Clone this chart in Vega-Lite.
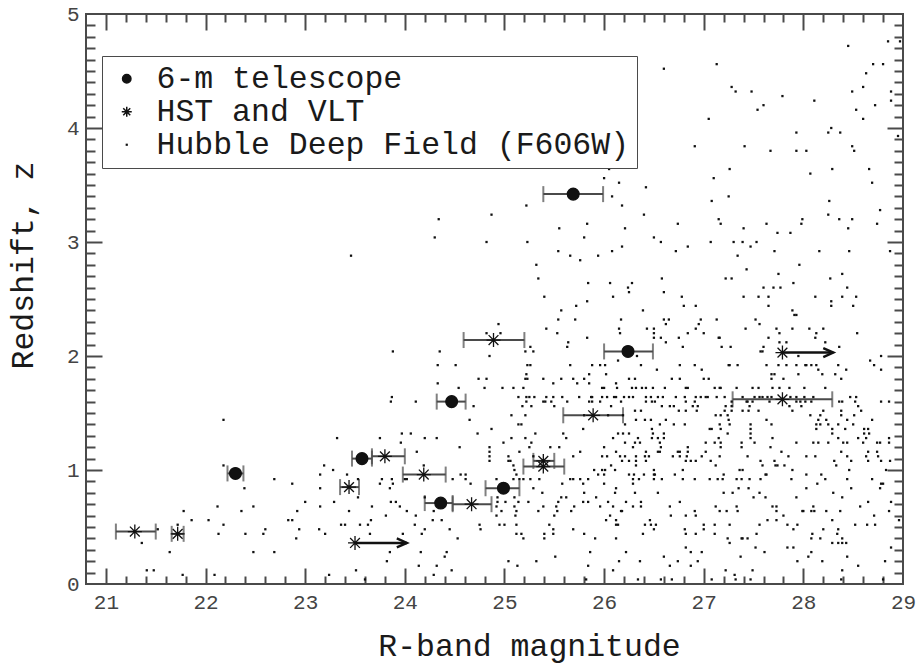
{
  "$schema": "https://vega.github.io/schema/vega-lite/v6.json",
  "width": 817,
  "height": 570,
  "autosize": {"type": "none"},
  "padding": {"left": 86, "top": 14, "right": 14, "bottom": 80},
  "background": "white",
  "config": {
    "view": {"stroke": "#4a4a4a", "strokeWidth": 2},
    "axis": {
      "grid": false,
      "domain": false,
      "labelFont": "Liberation Mono",
      "labelFontSize": 21,
      "labelColor": "#444444",
      "labelFlush": false,
      "labelOverlap": false,
      "titleFont": "Liberation Mono",
      "titleFontSize": 31.5,
      "titleFontWeight": "normal",
      "titleColor": "#1a1a1a",
      "tickColor": "#4a4a4a",
      "tickWidth": 2
    }
  },
  "data": {
    "values": [
      {"s":"c","R":28.85,"z":4.76},{"s":"c","R":28.97,"z":4.76},{"s":"c","R":28.45,"z":4.72},
      {"s":"c","R":27.13,"z":4.56},{"s":"c","R":28.70,"z":4.56},{"s":"c","R":28.80,"z":4.56},
      {"s":"c","R":26.60,"z":4.52},{"s":"c","R":28.63,"z":4.48},
      {"s":"c","R":27.28,"z":4.36},{"s":"c","R":28.60,"z":4.36},
      {"s":"c","R":26.08,"z":4.32},{"s":"c","R":27.32,"z":4.32},{"s":"c","R":27.48,"z":4.32},{"s":"c","R":28.49,"z":4.32},{"s":"c","R":28.88,"z":4.32},
      {"s":"c","R":27.79,"z":4.28},{"s":"c","R":28.11,"z":4.24},{"s":"c","R":28.88,"z":4.24},
      {"s":"c","R":27.60,"z":4.20},{"s":"c","R":28.72,"z":4.20},
      {"s":"c","R":26.22,"z":4.16},{"s":"c","R":27.54,"z":4.16},{"s":"c","R":28.53,"z":4.16},
      {"s":"c","R":27.05,"z":4.08},{"s":"c","R":28.60,"z":4.08},{"s":"c","R":28.28,"z":4.00},
      {"s":"c","R":27.93,"z":3.96},{"s":"c","R":28.25,"z":3.96},{"s":"c","R":28.37,"z":3.96},{"s":"c","R":28.95,"z":3.93},
      {"s":"c","R":26.91,"z":3.84},{"s":"c","R":27.41,"z":3.84},{"s":"c","R":28.49,"z":3.84},
      {"s":"c","R":27.67,"z":3.80},{"s":"c","R":27.93,"z":3.80},{"s":"c","R":28.03,"z":3.80},{"s":"c","R":28.51,"z":3.80},
      {"s":"c","R":26.05,"z":3.64},{"s":"c","R":27.26,"z":3.64},{"s":"c","R":28.29,"z":3.64},{"s":"c","R":28.66,"z":3.64},
      {"s":"c","R":28.07,"z":3.60},{"s":"c","R":26.00,"z":3.56},{"s":"c","R":27.10,"z":3.56},
      {"s":"c","R":26.15,"z":3.52},{"s":"c","R":28.69,"z":3.52},{"s":"c","R":26.42,"z":3.48},
      {"s":"c","R":26.08,"z":3.40},{"s":"c","R":27.25,"z":3.40},{"s":"c","R":27.08,"z":3.36},{"s":"c","R":28.26,"z":3.36},
      {"s":"c","R":25.22,"z":3.32},{"s":"c","R":26.18,"z":3.32},{"s":"c","R":28.77,"z":3.28},
      {"s":"c","R":24.87,"z":3.24},{"s":"c","R":26.40,"z":3.24},{"s":"c","R":28.25,"z":3.24},
      {"s":"c","R":24.34,"z":3.20},{"s":"c","R":27.15,"z":3.20},{"s":"c","R":27.99,"z":3.20},{"s":"c","R":28.36,"z":3.20},{"s":"c","R":28.49,"z":3.20},
      {"s":"c","R":25.83,"z":3.16},{"s":"c","R":26.74,"z":3.16},{"s":"c","R":27.17,"z":3.16},{"s":"c","R":27.63,"z":3.16},{"s":"c","R":27.98,"z":3.16},{"s":"c","R":28.74,"z":3.16},
      {"s":"c","R":25.55,"z":3.12},{"s":"c","R":26.21,"z":3.12},{"s":"c","R":27.40,"z":3.12},{"s":"c","R":28.45,"z":3.12},
      {"s":"c","R":27.74,"z":3.08},{"s":"c","R":27.87,"z":3.08},
      {"s":"c","R":24.30,"z":3.04},{"s":"c","R":25.80,"z":3.04},{"s":"c","R":26.50,"z":3.04},
      {"s":"c","R":24.82,"z":3.00},{"s":"c","R":25.23,"z":3.00},{"s":"c","R":26.57,"z":3.00},{"s":"c","R":27.07,"z":3.00},{"s":"c","R":27.30,"z":3.00},{"s":"c","R":27.39,"z":3.00},{"s":"c","R":27.53,"z":3.00},
      {"s":"c","R":26.18,"z":2.96},{"s":"c","R":26.84,"z":2.96},{"s":"c","R":27.47,"z":2.96},
      {"s":"c","R":25.54,"z":2.92},{"s":"c","R":26.08,"z":2.92},{"s":"c","R":26.72,"z":2.92},{"s":"c","R":27.71,"z":2.92},{"s":"c","R":28.16,"z":2.92},{"s":"c","R":28.46,"z":2.92},{"s":"c","R":28.87,"z":2.92},
      {"s":"c","R":23.46,"z":2.88},{"s":"c","R":25.66,"z":2.88},{"s":"c","R":25.94,"z":2.88},{"s":"c","R":27.34,"z":2.88},
      {"s":"c","R":25.76,"z":2.84},{"s":"c","R":25.32,"z":2.80},{"s":"c","R":27.96,"z":2.80},{"s":"c","R":27.43,"z":2.76},
      {"s":"c","R":27.75,"z":2.72},{"s":"c","R":28.39,"z":2.72},
      {"s":"c","R":25.34,"z":2.68},{"s":"c","R":26.58,"z":2.68},{"s":"c","R":27.22,"z":2.68},{"s":"c","R":27.28,"z":2.68},{"s":"c","R":28.27,"z":2.68},
      {"s":"c","R":25.84,"z":2.64},{"s":"c","R":26.06,"z":2.64},{"s":"c","R":26.28,"z":2.64},{"s":"c","R":27.90,"z":2.64},
      {"s":"c","R":26.24,"z":2.60},{"s":"c","R":27.60,"z":2.60},{"s":"c","R":27.70,"z":2.60},{"s":"c","R":27.77,"z":2.60},{"s":"c","R":28.44,"z":2.60},
      {"s":"c","R":26.25,"z":2.56},{"s":"c","R":26.60,"z":2.56},
      {"s":"c","R":25.40,"z":2.52},{"s":"c","R":26.09,"z":2.52},{"s":"c","R":26.78,"z":2.52},{"s":"c","R":27.40,"z":2.52},{"s":"c","R":27.55,"z":2.52},{"s":"c","R":27.65,"z":2.52},{"s":"c","R":28.12,"z":2.52},{"s":"c","R":28.39,"z":2.52},{"s":"c","R":28.53,"z":2.52},
      {"s":"c","R":25.83,"z":2.48},{"s":"c","R":28.28,"z":2.48},
      {"s":"c","R":25.72,"z":2.44},{"s":"c","R":26.80,"z":2.44},{"s":"c","R":26.92,"z":2.44},{"s":"c","R":27.65,"z":2.44},{"s":"c","R":28.28,"z":2.44},{"s":"c","R":28.50,"z":2.44},
      {"s":"c","R":25.57,"z":2.40},{"s":"c","R":26.39,"z":2.40},{"s":"c","R":27.89,"z":2.40},
      {"s":"c","R":27.91,"z":2.36},{"s":"c","R":27.93,"z":2.36},
      {"s":"c","R":25.54,"z":2.32},{"s":"c","R":25.71,"z":2.32},{"s":"c","R":26.17,"z":2.32},{"s":"c","R":26.60,"z":2.32},{"s":"c","R":26.65,"z":2.32},{"s":"c","R":26.97,"z":2.32},{"s":"c","R":27.13,"z":2.32},{"s":"c","R":27.52,"z":2.32},
      {"s":"c","R":24.94,"z":2.28},{"s":"c","R":26.62,"z":2.28},{"s":"c","R":26.95,"z":2.28},{"s":"c","R":27.56,"z":2.28},
      {"s":"c","R":25.42,"z":2.24},{"s":"c","R":26.15,"z":2.24},{"s":"c","R":26.43,"z":2.24},{"s":"c","R":26.50,"z":2.24},{"s":"c","R":26.92,"z":2.24},{"s":"c","R":27.42,"z":2.24},{"s":"c","R":27.73,"z":2.24},{"s":"c","R":27.89,"z":2.24},{"s":"c","R":28.06,"z":2.24},{"s":"c","R":28.20,"z":2.24},
      {"s":"c","R":24.82,"z":2.20},{"s":"c","R":24.96,"z":2.20},{"s":"c","R":25.53,"z":2.20},{"s":"c","R":26.16,"z":2.20},{"s":"c","R":26.50,"z":2.20},{"s":"c","R":26.84,"z":2.20},{"s":"c","R":27.00,"z":2.20},{"s":"c","R":27.76,"z":2.20},{"s":"c","R":28.13,"z":2.20},{"s":"c","R":28.54,"z":2.20},
      {"s":"c","R":25.83,"z":2.16},{"s":"c","R":26.50,"z":2.16},{"s":"c","R":26.57,"z":2.16},{"s":"c","R":26.75,"z":2.16},{"s":"c","R":27.15,"z":2.16},{"s":"c","R":27.16,"z":2.16},{"s":"c","R":27.65,"z":2.16},{"s":"c","R":28.12,"z":2.16},
      {"s":"c","R":25.64,"z":2.12},{"s":"c","R":26.62,"z":2.12},{"s":"c","R":27.76,"z":2.12},{"s":"c","R":27.83,"z":2.12},{"s":"c","R":28.22,"z":2.12},
      {"s":"c","R":25.26,"z":2.08},{"s":"c","R":25.63,"z":2.08},{"s":"c","R":26.79,"z":2.08},{"s":"c","R":27.18,"z":2.08},{"s":"c","R":27.27,"z":2.08},{"s":"c","R":27.60,"z":2.08},{"s":"c","R":28.36,"z":2.08},
      {"s":"c","R":23.88,"z":2.04},{"s":"c","R":24.35,"z":2.04},{"s":"c","R":25.21,"z":2.04},{"s":"c","R":25.29,"z":2.04},{"s":"c","R":27.57,"z":2.04},{"s":"c","R":27.59,"z":2.04},
      {"s":"c","R":24.85,"z":2.00},{"s":"c","R":26.33,"z":2.00},{"s":"c","R":27.95,"z":2.00},{"s":"c","R":28.78,"z":2.00},
      {"s":"c","R":26.14,"z":1.96},{"s":"c","R":28.67,"z":1.96},
      {"s":"c","R":24.33,"z":1.92},{"s":"c","R":24.51,"z":1.92},{"s":"c","R":25.23,"z":1.92},{"s":"c","R":25.26,"z":1.92},{"s":"c","R":25.66,"z":1.92},{"s":"c","R":25.88,"z":1.92},{"s":"c","R":25.96,"z":1.92},{"s":"c","R":26.01,"z":1.92},{"s":"c","R":26.37,"z":1.92},{"s":"c","R":26.76,"z":1.92},{"s":"c","R":26.91,"z":1.92},{"s":"c","R":27.25,"z":1.92},{"s":"c","R":27.26,"z":1.92},{"s":"c","R":27.34,"z":1.92},{"s":"c","R":27.63,"z":1.92},{"s":"c","R":27.75,"z":1.92},{"s":"c","R":27.83,"z":1.92},{"s":"c","R":27.93,"z":1.92},{"s":"c","R":28.02,"z":1.92},{"s":"c","R":28.03,"z":1.92},{"s":"c","R":28.08,"z":1.92},{"s":"c","R":28.13,"z":1.92},{"s":"c","R":28.35,"z":1.92},{"s":"c","R":28.71,"z":1.92},
      {"s":"c","R":26.53,"z":1.88},{"s":"c","R":26.98,"z":1.88},{"s":"c","R":28.15,"z":1.88},{"s":"c","R":28.43,"z":1.88},{"s":"c","R":28.78,"z":1.88},
      {"s":"c","R":25.22,"z":1.84},{"s":"c","R":25.85,"z":1.84},{"s":"c","R":26.02,"z":1.84},{"s":"c","R":27.68,"z":1.84},{"s":"c","R":27.71,"z":1.84},{"s":"c","R":27.95,"z":1.84},{"s":"c","R":28.19,"z":1.84},{"s":"c","R":28.32,"z":1.84},
      {"s":"c","R":24.74,"z":1.80},{"s":"c","R":24.82,"z":1.80},{"s":"c","R":25.21,"z":1.80},{"s":"c","R":25.23,"z":1.80},{"s":"c","R":25.39,"z":1.80},{"s":"c","R":25.57,"z":1.80},{"s":"c","R":25.69,"z":1.80},{"s":"c","R":25.80,"z":1.80},{"s":"c","R":26.25,"z":1.80},{"s":"c","R":26.31,"z":1.80},{"s":"c","R":26.68,"z":1.80},{"s":"c","R":26.76,"z":1.80},{"s":"c","R":27.00,"z":1.80},{"s":"c","R":27.05,"z":1.80},{"s":"c","R":27.68,"z":1.80},{"s":"c","R":27.80,"z":1.80},{"s":"c","R":28.38,"z":1.80},
      {"s":"c","R":24.33,"z":1.76},{"s":"c","R":25.49,"z":1.76},{"s":"c","R":25.73,"z":1.76},{"s":"c","R":25.85,"z":1.76},{"s":"c","R":26.12,"z":1.76},
      {"s":"c","R":24.54,"z":1.72},{"s":"c","R":24.80,"z":1.72},{"s":"c","R":24.98,"z":1.72},{"s":"c","R":25.09,"z":1.72},{"s":"c","R":25.19,"z":1.72},{"s":"c","R":25.98,"z":1.72},{"s":"c","R":26.00,"z":1.72},{"s":"c","R":26.13,"z":1.72},{"s":"c","R":26.28,"z":1.72},{"s":"c","R":26.32,"z":1.72},{"s":"c","R":26.38,"z":1.72},{"s":"c","R":26.42,"z":1.72},{"s":"c","R":26.49,"z":1.72},{"s":"c","R":26.61,"z":1.72},{"s":"c","R":26.82,"z":1.72},{"s":"c","R":26.84,"z":1.72},{"s":"c","R":27.11,"z":1.72},{"s":"c","R":27.16,"z":1.72},{"s":"c","R":27.17,"z":1.72},{"s":"c","R":27.33,"z":1.72},{"s":"c","R":27.49,"z":1.72},{"s":"c","R":27.55,"z":1.72},{"s":"c","R":27.69,"z":1.72},{"s":"c","R":27.76,"z":1.72},{"s":"c","R":27.86,"z":1.72},{"s":"c","R":28.01,"z":1.72},{"s":"c","R":28.22,"z":1.72},
      {"s":"c","R":23.87,"z":1.64},{"s":"c","R":25.14,"z":1.64},{"s":"c","R":25.22,"z":1.64},{"s":"c","R":25.25,"z":1.64},{"s":"c","R":25.30,"z":1.64},{"s":"c","R":25.42,"z":1.64},{"s":"c","R":25.49,"z":1.64},{"s":"c","R":25.58,"z":1.64},{"s":"c","R":25.75,"z":1.64},{"s":"c","R":25.87,"z":1.64},{"s":"c","R":25.88,"z":1.64},{"s":"c","R":25.98,"z":1.64},{"s":"c","R":26.03,"z":1.64},{"s":"c","R":26.10,"z":1.64},{"s":"c","R":26.12,"z":1.64},{"s":"c","R":26.20,"z":1.64},{"s":"c","R":26.25,"z":1.64},{"s":"c","R":26.29,"z":1.64},{"s":"c","R":26.42,"z":1.64},{"s":"c","R":26.47,"z":1.64},{"s":"c","R":26.54,"z":1.64},{"s":"c","R":26.59,"z":1.64},{"s":"c","R":26.72,"z":1.64},{"s":"c","R":26.81,"z":1.64},{"s":"c","R":26.92,"z":1.64},{"s":"c","R":26.97,"z":1.64},{"s":"c","R":27.02,"z":1.64},{"s":"c","R":27.04,"z":1.64},{"s":"c","R":27.13,"z":1.64},{"s":"c","R":27.21,"z":1.64},{"s":"c","R":27.39,"z":1.64},{"s":"c","R":27.51,"z":1.64},{"s":"c","R":27.56,"z":1.64},{"s":"c","R":27.59,"z":1.64},{"s":"c","R":27.64,"z":1.64},{"s":"c","R":27.68,"z":1.64},{"s":"c","R":27.87,"z":1.64},{"s":"c","R":27.93,"z":1.64},{"s":"c","R":28.01,"z":1.64},{"s":"c","R":28.10,"z":1.64},{"s":"c","R":28.47,"z":1.64},{"s":"c","R":28.53,"z":1.64},
      {"s":"c","R":23.86,"z":1.60},{"s":"c","R":24.11,"z":1.60},{"s":"c","R":25.22,"z":1.60},{"s":"c","R":25.39,"z":1.60},{"s":"c","R":25.41,"z":1.60},{"s":"c","R":25.47,"z":1.60},{"s":"c","R":25.63,"z":1.60},{"s":"c","R":25.85,"z":1.60},{"s":"c","R":25.88,"z":1.60},{"s":"c","R":25.96,"z":1.60},{"s":"c","R":26.17,"z":1.60},{"s":"c","R":26.42,"z":1.60},{"s":"c","R":26.48,"z":1.60},{"s":"c","R":26.51,"z":1.60},{"s":"c","R":26.82,"z":1.60},{"s":"c","R":26.91,"z":1.60},{"s":"c","R":27.28,"z":1.60},{"s":"c","R":27.43,"z":1.60},{"s":"c","R":27.44,"z":1.60},{"s":"c","R":27.49,"z":1.60},{"s":"c","R":27.66,"z":1.60},{"s":"c","R":27.93,"z":1.60},{"s":"c","R":27.97,"z":1.60},{"s":"c","R":28.02,"z":1.60},{"s":"c","R":28.08,"z":1.60},{"s":"c","R":28.36,"z":1.60},{"s":"c","R":28.39,"z":1.60},{"s":"c","R":28.52,"z":1.60},{"s":"c","R":28.78,"z":1.60},{"s":"c","R":28.86,"z":1.60},
      {"s":"c","R":24.69,"z":1.56},{"s":"c","R":25.18,"z":1.56},{"s":"c","R":25.27,"z":1.56},{"s":"c","R":25.50,"z":1.56},{"s":"c","R":26.07,"z":1.56},{"s":"c","R":26.58,"z":1.56},{"s":"c","R":26.66,"z":1.56},{"s":"c","R":26.70,"z":1.56},{"s":"c","R":26.89,"z":1.56},{"s":"c","R":26.94,"z":1.56},{"s":"c","R":27.22,"z":1.56},{"s":"c","R":27.28,"z":1.56},{"s":"c","R":27.46,"z":1.56},{"s":"c","R":27.86,"z":1.56},{"s":"c","R":27.98,"z":1.56},{"s":"c","R":28.55,"z":1.56},
      {"s":"c","R":26.31,"z":1.52},{"s":"c","R":26.37,"z":1.52},{"s":"c","R":26.75,"z":1.52},{"s":"c","R":26.82,"z":1.52},{"s":"c","R":26.93,"z":1.52},{"s":"c","R":27.21,"z":1.52},{"s":"c","R":27.28,"z":1.52},{"s":"c","R":27.39,"z":1.52},{"s":"c","R":27.45,"z":1.52},{"s":"c","R":27.55,"z":1.52},{"s":"c","R":27.89,"z":1.52},{"s":"c","R":28.20,"z":1.52},{"s":"c","R":28.38,"z":1.52},{"s":"c","R":28.58,"z":1.52},
      {"s":"c","R":25.07,"z":1.48},{"s":"c","R":25.21,"z":1.48},{"s":"c","R":25.80,"z":1.48},{"s":"c","R":26.04,"z":1.48},{"s":"c","R":26.19,"z":1.48},{"s":"c","R":27.12,"z":1.48},{"s":"c","R":27.17,"z":1.48},{"s":"c","R":27.24,"z":1.48},{"s":"c","R":28.07,"z":1.48},{"s":"c","R":28.17,"z":1.48},{"s":"c","R":28.38,"z":1.48},{"s":"c","R":28.51,"z":1.48},
      {"s":"c","R":22.18,"z":1.44},{"s":"c","R":24.65,"z":1.44},{"s":"c","R":26.32,"z":1.44},{"s":"c","R":26.41,"z":1.44},{"s":"c","R":26.47,"z":1.44},{"s":"c","R":26.62,"z":1.44},{"s":"c","R":27.25,"z":1.44},{"s":"c","R":27.63,"z":1.44},{"s":"c","R":28.15,"z":1.44},{"s":"c","R":28.23,"z":1.44},{"s":"c","R":28.44,"z":1.44},{"s":"c","R":28.69,"z":1.44},
      {"s":"c","R":25.14,"z":1.40},{"s":"c","R":25.17,"z":1.40},{"s":"c","R":26.21,"z":1.40},{"s":"c","R":26.56,"z":1.40},{"s":"c","R":26.70,"z":1.40},{"s":"c","R":26.81,"z":1.40},{"s":"c","R":27.16,"z":1.40},{"s":"c","R":27.26,"z":1.40},{"s":"c","R":27.47,"z":1.40},{"s":"c","R":27.68,"z":1.40},{"s":"c","R":28.13,"z":1.40},{"s":"c","R":28.17,"z":1.40},{"s":"c","R":28.25,"z":1.40},{"s":"c","R":28.35,"z":1.40},{"s":"c","R":28.50,"z":1.40},
      {"s":"c","R":24.87,"z":1.36},{"s":"c","R":25.79,"z":1.36},{"s":"c","R":26.48,"z":1.36},{"s":"c","R":27.06,"z":1.36},{"s":"c","R":27.08,"z":1.36},{"s":"c","R":27.17,"z":1.36},{"s":"c","R":27.47,"z":1.36},{"s":"c","R":28.13,"z":1.36},{"s":"c","R":28.29,"z":1.36},{"s":"c","R":28.42,"z":1.36},{"s":"c","R":28.61,"z":1.36},{"s":"c","R":28.65,"z":1.36},
      {"s":"c","R":23.97,"z":1.32},{"s":"c","R":24.06,"z":1.32},{"s":"c","R":24.73,"z":1.32},{"s":"c","R":25.31,"z":1.32},{"s":"c","R":25.59,"z":1.32},{"s":"c","R":26.14,"z":1.32},{"s":"c","R":26.19,"z":1.32},{"s":"c","R":26.25,"z":1.32},{"s":"c","R":26.49,"z":1.32},{"s":"c","R":26.60,"z":1.32},{"s":"c","R":27.24,"z":1.32},{"s":"c","R":27.47,"z":1.32},{"s":"c","R":28.29,"z":1.32},{"s":"c","R":28.61,"z":1.32},{"s":"c","R":28.66,"z":1.32},
      {"s":"c","R":23.32,"z":1.28},{"s":"c","R":23.75,"z":1.28},{"s":"c","R":24.20,"z":1.28},{"s":"c","R":24.32,"z":1.28},{"s":"c","R":25.07,"z":1.28},{"s":"c","R":25.21,"z":1.28},{"s":"c","R":25.62,"z":1.28},{"s":"c","R":26.09,"z":1.28},{"s":"c","R":26.34,"z":1.28},{"s":"c","R":26.48,"z":1.28},{"s":"c","R":26.54,"z":1.28},{"s":"c","R":26.60,"z":1.28},{"s":"c","R":27.15,"z":1.28},{"s":"c","R":27.47,"z":1.28},{"s":"c","R":27.69,"z":1.28},{"s":"c","R":28.35,"z":1.28},{"s":"c","R":28.55,"z":1.28},{"s":"c","R":28.63,"z":1.28},{"s":"c","R":28.86,"z":1.28},
      {"s":"c","R":23.96,"z":1.24},{"s":"c","R":24.99,"z":1.24},{"s":"c","R":25.27,"z":1.24},{"s":"c","R":26.21,"z":1.24},{"s":"c","R":26.31,"z":1.24},{"s":"c","R":26.36,"z":1.24},{"s":"c","R":26.56,"z":1.24},{"s":"c","R":27.02,"z":1.24},{"s":"c","R":27.11,"z":1.24},{"s":"c","R":27.17,"z":1.24},{"s":"c","R":27.38,"z":1.24},{"s":"c","R":27.51,"z":1.24},{"s":"c","R":27.93,"z":1.24},{"s":"c","R":28.10,"z":1.24},{"s":"c","R":28.15,"z":1.24},{"s":"c","R":28.25,"z":1.24},{"s":"c","R":28.40,"z":1.24},{"s":"c","R":28.44,"z":1.24},{"s":"c","R":28.60,"z":1.24},{"s":"c","R":28.74,"z":1.24},{"s":"c","R":28.77,"z":1.24},{"s":"c","R":28.86,"z":1.24},
      {"s":"c","R":24.55,"z":1.20},{"s":"c","R":24.85,"z":1.20},{"s":"c","R":25.25,"z":1.20},{"s":"c","R":25.46,"z":1.20},{"s":"c","R":25.55,"z":1.20},{"s":"c","R":26.00,"z":1.20},{"s":"c","R":26.29,"z":1.20},{"s":"c","R":26.57,"z":1.20},{"s":"c","R":26.84,"z":1.20},{"s":"c","R":27.17,"z":1.20},{"s":"c","R":27.38,"z":1.20},{"s":"c","R":27.67,"z":1.20},
      {"s":"c","R":24.12,"z":1.16},{"s":"c","R":24.85,"z":1.16},{"s":"c","R":25.15,"z":1.16},{"s":"c","R":25.76,"z":1.16},{"s":"c","R":26.12,"z":1.16},{"s":"c","R":26.42,"z":1.16},{"s":"c","R":26.54,"z":1.16},{"s":"c","R":26.56,"z":1.16},{"s":"c","R":26.74,"z":1.16},{"s":"c","R":26.76,"z":1.16},{"s":"c","R":26.84,"z":1.16},{"s":"c","R":27.02,"z":1.16},{"s":"c","R":27.78,"z":1.16},{"s":"c","R":28.38,"z":1.16},{"s":"c","R":28.65,"z":1.16},{"s":"c","R":28.74,"z":1.16},
      {"s":"c","R":24.85,"z":1.12},{"s":"c","R":25.04,"z":1.12},{"s":"c","R":25.29,"z":1.12},{"s":"c","R":25.69,"z":1.12},{"s":"c","R":25.98,"z":1.12},{"s":"c","R":26.03,"z":1.12},{"s":"c","R":26.16,"z":1.12},{"s":"c","R":26.21,"z":1.12},{"s":"c","R":26.32,"z":1.12},{"s":"c","R":26.41,"z":1.12},{"s":"c","R":26.45,"z":1.12},{"s":"c","R":26.69,"z":1.12},{"s":"c","R":26.76,"z":1.12},{"s":"c","R":26.83,"z":1.12},{"s":"c","R":26.98,"z":1.12},{"s":"c","R":27.16,"z":1.12},{"s":"c","R":27.44,"z":1.12},{"s":"c","R":27.85,"z":1.12},{"s":"c","R":28.03,"z":1.12},{"s":"c","R":28.12,"z":1.12},{"s":"c","R":28.44,"z":1.12},{"s":"c","R":28.63,"z":1.12},{"s":"c","R":28.75,"z":1.12},
      {"s":"c","R":24.85,"z":1.08},{"s":"c","R":25.04,"z":1.08},{"s":"c","R":25.06,"z":1.08},{"s":"c","R":26.18,"z":1.08},{"s":"c","R":26.25,"z":1.08},{"s":"c","R":26.32,"z":1.08},{"s":"c","R":26.42,"z":1.08},{"s":"c","R":26.82,"z":1.08},{"s":"c","R":26.87,"z":1.08},{"s":"c","R":26.92,"z":1.08},{"s":"c","R":27.07,"z":1.08},{"s":"c","R":27.57,"z":1.08},{"s":"c","R":27.71,"z":1.08},{"s":"c","R":28.31,"z":1.08},{"s":"c","R":28.48,"z":1.08},{"s":"c","R":28.65,"z":1.08},{"s":"c","R":28.78,"z":1.08},{"s":"c","R":28.87,"z":1.08},
      {"s":"c","R":22.18,"z":1.04},{"s":"c","R":23.19,"z":1.04},{"s":"c","R":24.19,"z":1.04},{"s":"c","R":25.09,"z":1.04},{"s":"c","R":26.07,"z":1.04},{"s":"c","R":26.32,"z":1.04},{"s":"c","R":27.12,"z":1.04},{"s":"c","R":27.59,"z":1.04},{"s":"c","R":27.72,"z":1.04},{"s":"c","R":27.74,"z":1.04},{"s":"c","R":27.81,"z":1.04},{"s":"c","R":28.33,"z":1.04},
      {"s":"c","R":23.28,"z":1.00},{"s":"c","R":25.10,"z":1.00},{"s":"c","R":25.90,"z":1.00},{"s":"c","R":25.98,"z":1.00},{"s":"c","R":26.01,"z":1.00},{"s":"c","R":26.11,"z":1.00},{"s":"c","R":26.50,"z":1.00},{"s":"c","R":26.79,"z":1.00},{"s":"c","R":27.36,"z":1.00},{"s":"c","R":27.39,"z":1.00},{"s":"c","R":27.89,"z":1.00},{"s":"c","R":28.46,"z":1.00},{"s":"c","R":28.83,"z":1.00},
      {"s":"c","R":23.15,"z":0.96},{"s":"c","R":23.42,"z":0.96},{"s":"c","R":24.56,"z":0.96},{"s":"c","R":24.61,"z":0.96},{"s":"c","R":25.12,"z":0.96},{"s":"c","R":25.94,"z":0.96},{"s":"c","R":26.00,"z":0.96},{"s":"c","R":26.25,"z":0.96},{"s":"c","R":26.30,"z":0.96},{"s":"c","R":26.40,"z":0.96},{"s":"c","R":26.50,"z":0.96},{"s":"c","R":26.51,"z":0.96},{"s":"c","R":26.71,"z":0.96},{"s":"c","R":27.20,"z":0.96},{"s":"c","R":27.62,"z":0.96},{"s":"c","R":27.63,"z":0.96},{"s":"c","R":28.03,"z":0.96},{"s":"c","R":28.18,"z":0.96},
      {"s":"c","R":22.69,"z":0.92},{"s":"c","R":23.53,"z":0.92},{"s":"c","R":23.77,"z":0.92},{"s":"c","R":23.87,"z":0.92},{"s":"c","R":24.00,"z":0.92},{"s":"c","R":24.02,"z":0.92},{"s":"c","R":24.48,"z":0.92},{"s":"c","R":24.61,"z":0.92},{"s":"c","R":24.92,"z":0.92},{"s":"c","R":25.09,"z":0.92},{"s":"c","R":25.15,"z":0.92},{"s":"c","R":25.19,"z":0.92},{"s":"c","R":25.26,"z":0.92},{"s":"c","R":25.35,"z":0.92},{"s":"c","R":25.66,"z":0.92},{"s":"c","R":25.69,"z":0.92},{"s":"c","R":25.76,"z":0.92},{"s":"c","R":25.84,"z":0.92},{"s":"c","R":26.29,"z":0.92},{"s":"c","R":26.35,"z":0.92},{"s":"c","R":26.50,"z":0.92},{"s":"c","R":26.58,"z":0.92},{"s":"c","R":26.79,"z":0.92},{"s":"c","R":26.91,"z":0.92},{"s":"c","R":27.06,"z":0.92},{"s":"c","R":27.14,"z":0.92},{"s":"c","R":27.19,"z":0.92},{"s":"c","R":27.33,"z":0.92},{"s":"c","R":27.38,"z":0.92},{"s":"c","R":27.46,"z":0.92},{"s":"c","R":27.57,"z":0.92},{"s":"c","R":27.88,"z":0.92},{"s":"c","R":28.22,"z":0.92},{"s":"c","R":28.44,"z":0.92},{"s":"c","R":28.69,"z":0.92},
      {"s":"c","R":22.87,"z":0.88},{"s":"c","R":23.75,"z":0.88},{"s":"c","R":23.88,"z":0.88},{"s":"c","R":24.66,"z":0.88},{"s":"c","R":25.58,"z":0.88},{"s":"c","R":25.79,"z":0.88},{"s":"c","R":26.00,"z":0.88},{"s":"c","R":26.29,"z":0.88},{"s":"c","R":28.14,"z":0.88},{"s":"c","R":28.78,"z":0.88},{"s":"c","R":28.80,"z":0.88},
      {"s":"c","R":22.39,"z":0.84},{"s":"c","R":23.15,"z":0.84},{"s":"c","R":23.85,"z":0.84},{"s":"c","R":25.29,"z":0.84},{"s":"c","R":26.12,"z":0.84},{"s":"c","R":27.35,"z":0.84},{"s":"c","R":27.45,"z":0.84},{"s":"c","R":28.03,"z":0.84},{"s":"c","R":28.48,"z":0.84},{"s":"c","R":28.77,"z":0.84},
      {"s":"c","R":25.38,"z":0.80},{"s":"c","R":25.80,"z":0.80},{"s":"c","R":26.11,"z":0.80},{"s":"c","R":26.31,"z":0.80},{"s":"c","R":26.54,"z":0.80},{"s":"c","R":27.20,"z":0.80},{"s":"c","R":27.29,"z":0.80},{"s":"c","R":27.56,"z":0.80},{"s":"c","R":28.30,"z":0.80},
      {"s":"c","R":23.53,"z":0.76},{"s":"c","R":24.20,"z":0.76},{"s":"c","R":24.93,"z":0.76},{"s":"c","R":25.10,"z":0.76},{"s":"c","R":25.57,"z":0.76},{"s":"c","R":25.62,"z":0.76},{"s":"c","R":25.92,"z":0.76},{"s":"c","R":27.50,"z":0.76},{"s":"c","R":27.62,"z":0.76},{"s":"c","R":27.93,"z":0.76},{"s":"c","R":28.39,"z":0.76},
      {"s":"c","R":23.00,"z":0.72},{"s":"c","R":23.29,"z":0.72},{"s":"c","R":23.86,"z":0.72},{"s":"c","R":23.91,"z":0.72},{"s":"c","R":24.40,"z":0.72},{"s":"c","R":24.93,"z":0.72},{"s":"c","R":25.01,"z":0.72},{"s":"c","R":25.14,"z":0.72},{"s":"c","R":25.24,"z":0.72},{"s":"c","R":25.54,"z":0.72},{"s":"c","R":25.79,"z":0.72},{"s":"c","R":25.84,"z":0.72},{"s":"c","R":26.04,"z":0.72},{"s":"c","R":26.22,"z":0.72},{"s":"c","R":26.37,"z":0.72},{"s":"c","R":26.76,"z":0.72},{"s":"c","R":28.65,"z":0.72},{"s":"c","R":28.88,"z":0.72},
      {"s":"c","R":22.12,"z":0.68},{"s":"c","R":22.48,"z":0.68},{"s":"c","R":23.15,"z":0.68},{"s":"c","R":23.67,"z":0.68},{"s":"c","R":23.95,"z":0.68},{"s":"c","R":24.92,"z":0.68},{"s":"c","R":25.10,"z":0.68},{"s":"c","R":25.39,"z":0.68},{"s":"c","R":25.52,"z":0.68},{"s":"c","R":25.70,"z":0.68},{"s":"c","R":25.96,"z":0.68},{"s":"c","R":26.09,"z":0.68},{"s":"c","R":26.29,"z":0.68},{"s":"c","R":26.37,"z":0.68},{"s":"c","R":26.66,"z":0.68},{"s":"c","R":27.12,"z":0.68},{"s":"c","R":27.33,"z":0.68},{"s":"c","R":27.69,"z":0.68},{"s":"c","R":27.73,"z":0.68},{"s":"c","R":28.10,"z":0.68},{"s":"c","R":28.57,"z":0.68},
      {"s":"c","R":21.78,"z":0.64},{"s":"c","R":22.36,"z":0.64},{"s":"c","R":22.92,"z":0.64},{"s":"c","R":23.44,"z":0.64},{"s":"c","R":24.02,"z":0.64},{"s":"c","R":24.29,"z":0.64},{"s":"c","R":24.97,"z":0.64},{"s":"c","R":25.12,"z":0.64},{"s":"c","R":25.34,"z":0.64},{"s":"c","R":25.53,"z":0.64},{"s":"c","R":25.67,"z":0.64},{"s":"c","R":26.17,"z":0.64},{"s":"c","R":26.18,"z":0.64},{"s":"c","R":26.91,"z":0.64},{"s":"c","R":27.16,"z":0.64},{"s":"c","R":27.23,"z":0.64},{"s":"c","R":27.34,"z":0.64},{"s":"c","R":27.73,"z":0.64},{"s":"c","R":27.99,"z":0.64},{"s":"c","R":28.00,"z":0.64},{"s":"c","R":28.08,"z":0.64},{"s":"c","R":28.11,"z":0.64},{"s":"c","R":28.23,"z":0.64},{"s":"c","R":28.37,"z":0.64},{"s":"c","R":28.86,"z":0.64},
      {"s":"c","R":23.81,"z":0.60},{"s":"c","R":24.11,"z":0.60},{"s":"c","R":24.92,"z":0.60},{"s":"c","R":25.11,"z":0.60},{"s":"c","R":25.50,"z":0.60},{"s":"c","R":26.06,"z":0.60},{"s":"c","R":26.67,"z":0.60},{"s":"c","R":26.82,"z":0.60},{"s":"c","R":26.92,"z":0.60},{"s":"c","R":27.80,"z":0.60},{"s":"c","R":28.71,"z":0.60},
      {"s":"c","R":21.86,"z":0.56},{"s":"c","R":22.03,"z":0.56},{"s":"c","R":22.83,"z":0.56},{"s":"c","R":22.87,"z":0.56},{"s":"c","R":23.66,"z":0.56},{"s":"c","R":24.28,"z":0.56},{"s":"c","R":24.37,"z":0.56},{"s":"c","R":26.02,"z":0.56},{"s":"c","R":26.12,"z":0.56},{"s":"c","R":26.46,"z":0.56},{"s":"c","R":27.64,"z":0.56},{"s":"c","R":27.73,"z":0.56},{"s":"c","R":28.29,"z":0.56},{"s":"c","R":28.96,"z":0.56},
      {"s":"c","R":21.72,"z":0.52},{"s":"c","R":22.18,"z":0.52},{"s":"c","R":23.36,"z":0.52},{"s":"c","R":23.40,"z":0.52},{"s":"c","R":23.55,"z":0.52},{"s":"c","R":23.63,"z":0.52},{"s":"c","R":24.10,"z":0.52},{"s":"c","R":24.75,"z":0.52},{"s":"c","R":24.95,"z":0.52},{"s":"c","R":25.00,"z":0.52},{"s":"c","R":25.12,"z":0.52},{"s":"c","R":25.45,"z":0.52},{"s":"c","R":26.12,"z":0.52},{"s":"c","R":26.14,"z":0.52},{"s":"c","R":26.41,"z":0.52},{"s":"c","R":26.47,"z":0.52},{"s":"c","R":26.52,"z":0.52},{"s":"c","R":27.00,"z":0.52},{"s":"c","R":27.11,"z":0.52},{"s":"c","R":27.26,"z":0.52},{"s":"c","R":27.56,"z":0.52},{"s":"c","R":27.84,"z":0.52},{"s":"c","R":27.94,"z":0.52},{"s":"c","R":28.52,"z":0.52},{"s":"c","R":28.64,"z":0.52},{"s":"c","R":28.72,"z":0.52},
      {"s":"c","R":21.52,"z":0.48},{"s":"c","R":22.60,"z":0.48},{"s":"c","R":22.94,"z":0.48},{"s":"c","R":23.14,"z":0.48},{"s":"c","R":24.20,"z":0.48},{"s":"c","R":24.45,"z":0.48},{"s":"c","R":24.76,"z":0.48},{"s":"c","R":25.49,"z":0.48},{"s":"c","R":25.69,"z":0.48},{"s":"c","R":26.50,"z":0.48},{"s":"c","R":26.81,"z":0.48},{"s":"c","R":27.00,"z":0.48},{"s":"c","R":27.90,"z":0.48},{"s":"c","R":28.20,"z":0.48},{"s":"c","R":28.35,"z":0.48},
      {"s":"c","R":22.13,"z":0.44},{"s":"c","R":22.40,"z":0.44},{"s":"c","R":22.58,"z":0.44},{"s":"c","R":23.20,"z":0.44},{"s":"c","R":23.65,"z":0.44},{"s":"c","R":23.98,"z":0.44},{"s":"c","R":24.17,"z":0.44},{"s":"c","R":25.12,"z":0.44},{"s":"c","R":25.17,"z":0.44},{"s":"c","R":25.40,"z":0.44},{"s":"c","R":25.49,"z":0.44},{"s":"c","R":25.80,"z":0.44},{"s":"c","R":26.39,"z":0.44},{"s":"c","R":26.82,"z":0.44},{"s":"c","R":26.92,"z":0.44},{"s":"c","R":27.11,"z":0.44},{"s":"c","R":27.53,"z":0.44},{"s":"c","R":28.09,"z":0.44},{"s":"c","R":28.34,"z":0.44},
      {"s":"c","R":22.91,"z":0.40},{"s":"c","R":24.53,"z":0.40},{"s":"c","R":25.19,"z":0.40},{"s":"c","R":25.40,"z":0.40},{"s":"c","R":25.91,"z":0.40},{"s":"c","R":26.12,"z":0.40},{"s":"c","R":27.24,"z":0.40},{"s":"c","R":27.38,"z":0.40},{"s":"c","R":27.39,"z":0.40},{"s":"c","R":27.44,"z":0.40},{"s":"c","R":28.08,"z":0.40},{"s":"c","R":28.17,"z":0.40},{"s":"c","R":28.39,"z":0.40},
      {"s":"c","R":21.36,"z":0.36},{"s":"c","R":27.26,"z":0.36},{"s":"c","R":28.29,"z":0.36},{"s":"c","R":28.35,"z":0.36},{"s":"c","R":28.39,"z":0.36},{"s":"c","R":28.43,"z":0.36},
      {"s":"c","R":26.82,"z":0.32},{"s":"c","R":27.52,"z":0.32},{"s":"c","R":27.84,"z":0.32},{"s":"c","R":27.90,"z":0.32},{"s":"c","R":28.88,"z":0.32},
      {"s":"c","R":21.64,"z":0.28},{"s":"c","R":22.48,"z":0.28},{"s":"c","R":22.69,"z":0.28},{"s":"c","R":23.85,"z":0.28},{"s":"c","R":24.16,"z":0.28},{"s":"c","R":24.42,"z":0.28},{"s":"c","R":25.86,"z":0.28},{"s":"c","R":26.22,"z":0.28},{"s":"c","R":26.87,"z":0.28},{"s":"c","R":26.98,"z":0.28},{"s":"c","R":27.61,"z":0.28},{"s":"c","R":28.08,"z":0.28},
      {"s":"c","R":24.40,"z":0.24},{"s":"c","R":25.51,"z":0.24},{"s":"c","R":26.60,"z":0.24},{"s":"c","R":27.37,"z":0.24},{"s":"c","R":28.05,"z":0.24},{"s":"c","R":28.44,"z":0.24},
      {"s":"c","R":23.82,"z":0.20},{"s":"c","R":25.04,"z":0.20},{"s":"c","R":25.32,"z":0.20},{"s":"c","R":26.15,"z":0.20},{"s":"c","R":26.36,"z":0.20},{"s":"c","R":26.74,"z":0.20},{"s":"c","R":26.94,"z":0.20},{"s":"c","R":27.94,"z":0.20},{"s":"c","R":28.19,"z":0.20},{"s":"c","R":28.82,"z":0.20},
      {"s":"c","R":24.14,"z":0.16},{"s":"c","R":24.32,"z":0.16},{"s":"c","R":25.13,"z":0.16},{"s":"c","R":25.84,"z":0.16},{"s":"c","R":26.66,"z":0.16},{"s":"c","R":26.87,"z":0.16},{"s":"c","R":28.55,"z":0.16},
      {"s":"c","R":21.41,"z":0.12},{"s":"c","R":21.48,"z":0.12},{"s":"c","R":23.51,"z":0.12},{"s":"c","R":24.47,"z":0.12},{"s":"c","R":26.09,"z":0.12},{"s":"c","R":27.22,"z":0.12},{"s":"c","R":27.49,"z":0.12},{"s":"c","R":28.39,"z":0.12},
      {"s":"c","R":21.77,"z":0.08},{"s":"c","R":22.09,"z":0.08},{"s":"c","R":23.24,"z":0.08},{"s":"c","R":24.29,"z":0.08},{"s":"c","R":27.31,"z":0.08},
      {"s":"c","R":23.60,"z":0.04},{"s":"c","R":25.82,"z":0.04},{"s":"c","R":26.34,"z":0.04},{"s":"c","R":26.57,"z":0.04},{"s":"c","R":26.68,"z":0.04},{"s":"c","R":27.08,"z":0.04},{"s":"c","R":27.32,"z":0.04},{"s":"c","R":27.47,"z":0.04},{"s":"c","R":28.38,"z":0.04},{"s":"c","R":28.80,"z":0.04},

      {"s":"a","R":22.30,"z":0.97,"lo":22.22,"hi":22.38},
      {"s":"a","R":23.57,"z":1.10,"lo":23.47,"hi":23.67},
      {"s":"a","R":24.47,"z":1.60,"lo":24.32,"hi":24.61},
      {"s":"a","R":24.36,"z":0.71,"lo":24.20,"hi":24.48},
      {"s":"a","R":24.99,"z":0.84,"lo":24.81,"hi":25.15},
      {"s":"a","R":26.24,"z":2.04,"lo":26.00,"hi":26.49},
      {"s":"a","R":25.69,"z":3.42,"lo":25.39,"hi":25.99},

      {"s":"b","R":21.29,"z":0.46,"lo":21.10,"hi":21.50},
      {"s":"b","R":21.72,"z":0.44,"lo":21.66,"hi":21.78},
      {"s":"b","R":23.44,"z":0.85,"lo":23.35,"hi":23.54},
      {"s":"b","R":23.80,"z":1.12,"lo":23.67,"hi":24.00},
      {"s":"b","R":24.19,"z":0.96,"lo":23.98,"hi":24.41},
      {"s":"b","R":24.67,"z":0.70,"lo":24.48,"hi":24.87},
      {"s":"b","R":24.89,"z":2.14,"lo":24.59,"hi":25.20},
      {"s":"b","R":25.39,"z":1.08,"lo":25.29,"hi":25.50},
      {"s":"b","R":25.39,"z":1.03,"lo":25.19,"hi":25.60},
      {"s":"b","R":25.89,"z":1.48,"lo":25.59,"hi":26.19},
      {"s":"b","R":27.79,"z":1.62,"lo":27.29,"hi":28.29},
      {"s":"b","R":23.50,"z":0.36,"lim":24.02},
      {"s":"b","R":27.79,"z":2.03,"lim":28.30},
      {"s":"b","R":25.59,"z":4.50,"lim":26.10}
    ]
  },
  "resolve": {"axis": {"x": "independent", "y": "independent"}},
  "layer": [
    {
      "transform": [{"filter": "isValid(datum.lo)"}],
      "mark": {"type": "rule", "color": "#4a4a4a", "strokeWidth": 2},
      "encoding": {
        "x": {
          "field": "lo", "type": "quantitative",
          "scale": {"domain": [20.8, 29], "nice": false, "zero": false},
          "axis": {
            "orient": "bottom", "values": [21, 22, 23, 24, 25, 26, 27, 28, 29],
            "ticks": false, "labelPadding": 7,
            "title": "R-band magnitude", "titleX": 443, "titleY": 71,
            "titleAlign": "center", "titleBaseline": "alphabetic"
          }
        },
        "x2": {"field": "hi"},
        "y": {
          "field": "z", "type": "quantitative",
          "scale": {"domain": [0, 5], "nice": false, "zero": false},
          "axis": {
            "orient": "left", "values": [0, 1, 2, 3, 4, 5],
            "ticks": false, "labelPadding": 7,
            "title": "Redshift, z", "titleX": -54, "titleY": 251, "titleAngle": -90,
            "titleAlign": "center", "titleBaseline": "alphabetic"
          }
        }
      }
    },
    {
      "transform": [{"filter": "isValid(datum.lo)"}],
      "mark": {"type": "tick", "orient": "vertical", "color": "#4a4a4a", "thickness": 2, "size": 16},
      "encoding": {
        "x": {"field": "lo", "type": "quantitative",
          "axis": {"orient": "bottom", "values": [21, 22, 23, 24, 25, 26, 27, 28], "labels": false, "offset": -16, "tickSize": 16, "title": null}},
        "y": {"field": "z", "type": "quantitative",
          "axis": {"orient": "left", "values": [1, 2, 3, 4], "labels": false, "offset": -16, "tickSize": 16, "title": null}}
      }
    },
    {
      "transform": [{"filter": "isValid(datum.hi)"}],
      "mark": {"type": "tick", "orient": "vertical", "color": "#4a4a4a", "thickness": 2, "size": 16},
      "encoding": {
        "x": {"field": "hi", "type": "quantitative",
          "axis": {"orient": "bottom", "values": [21.2,21.4,21.6,21.8,22.2,22.4,22.6,22.8,23.2,23.4,23.6,23.8,24.2,24.4,24.6,24.8,25.2,25.4,25.6,25.8,26.2,26.4,26.6,26.8,27.2,27.4,27.6,27.8,28.2,28.4,28.6,28.8], "labels": false, "offset": -8, "tickSize": 8, "title": null}},
        "y": {"field": "z", "type": "quantitative",
          "axis": {"orient": "left", "values": [0.1,0.2,0.3,0.4,0.5,0.6,0.7,0.8,0.9,1.1,1.2,1.3,1.4,1.5,1.6,1.7,1.8,1.9,2.1,2.2,2.3,2.4,2.5,2.6,2.7,2.8,2.9,3.1,3.2,3.3,3.4,3.5,3.6,3.7,3.8,3.9,4.1,4.2,4.3,4.4,4.5,4.6,4.7,4.8,4.9], "labels": false, "offset": -9, "tickSize": 9, "title": null}}
      }
    },
    {
      "transform": [{"filter": "isValid(datum.lim)"}],
      "mark": {"type": "rule", "color": "#111111", "strokeWidth": 2.5},
      "encoding": {
        "x": {"field": "R", "type": "quantitative",
          "axis": {"orient": "top", "values": [21, 22, 23, 24, 25, 26, 27, 28], "labels": false, "offset": -16, "tickSize": 16, "title": null}},
        "x2": {"field": "lim"},
        "y": {"field": "z", "type": "quantitative",
          "axis": {"orient": "right", "values": [1, 2, 3, 4], "labels": false, "offset": -16, "tickSize": 16, "title": null}}
      }
    },
    {
      "transform": [{"filter": "isValid(datum.lim)"}],
      "mark": {"type": "point", "shape": "M-1,-0.45L0,0L-1,0.45", "size": 400, "color": "#111111", "strokeWidth": 2.5, "opacity": 1},
      "encoding": {
        "x": {"field": "lim", "type": "quantitative",
          "axis": {"orient": "top", "values": [21.2,21.4,21.6,21.8,22.2,22.4,22.6,22.8,23.2,23.4,23.6,23.8,24.2,24.4,24.6,24.8,25.2,25.4,25.6,25.8,26.2,26.4,26.6,26.8,27.2,27.4,27.6,27.8,28.2,28.4,28.6,28.8], "labels": false, "offset": -8, "tickSize": 8, "title": null}},
        "y": {"field": "z", "type": "quantitative",
          "axis": {"orient": "right", "values": [0.1,0.2,0.3,0.4,0.5,0.6,0.7,0.8,0.9,1.1,1.2,1.3,1.4,1.5,1.6,1.7,1.8,1.9,2.1,2.2,2.3,2.4,2.5,2.6,2.7,2.8,2.9,3.1,3.2,3.3,3.4,3.5,3.6,3.7,3.8,3.9,4.1,4.2,4.3,4.4,4.5,4.6,4.7,4.8,4.9], "labels": false, "offset": -9, "tickSize": 9, "title": null}}
      }
    },
    {
      "mark": {"type": "point", "filled": true, "fill": "#111111", "stroke": "#111111", "strokeWidth": 1.3, "size": 196, "opacity": 1},
      "encoding": {
        "x": {"field": "R", "type": "quantitative", "axis": null},
        "y": {"field": "z", "type": "quantitative", "axis": null},
        "shape": {
          "field": "s", "type": "nominal",
          "scale": {"domain": ["a", "b", "c"], "range": [
            "M0.84,0A0.84,0.84,0,1,1,-0.84,0A0.84,0.84,0,1,1,0.84,0Z",
            "M0,-1L0,1M-1,0L1,0M-0.7,-0.7L0.7,0.7M-0.7,0.7L0.7,-0.7",
            "M-0.07,-0.07L0.07,-0.07L0.07,0.07L-0.07,0.07Z"
          ]},
          "legend": {
            "title": null, "orient": "none", "legendX": 16, "legendY": 42,
            "labelExpr": "datum.label == 'a' ? '6-m telescope' : datum.label == 'b' ? 'HST and VLT' : 'Hubble Deep Field (F606W)'",
            "labelFont": "Liberation Mono", "labelFontSize": 31.5, "labelColor": "#1a1a1a", "labelLimit": 1000,
            "strokeColor": "#4a4a4a", "fillColor": "white", "padding": 7, "rowPadding": 0,
            "labelOffset": 14, "symbolOffset": 2
          }
        }
      }
    }
  ]
}
